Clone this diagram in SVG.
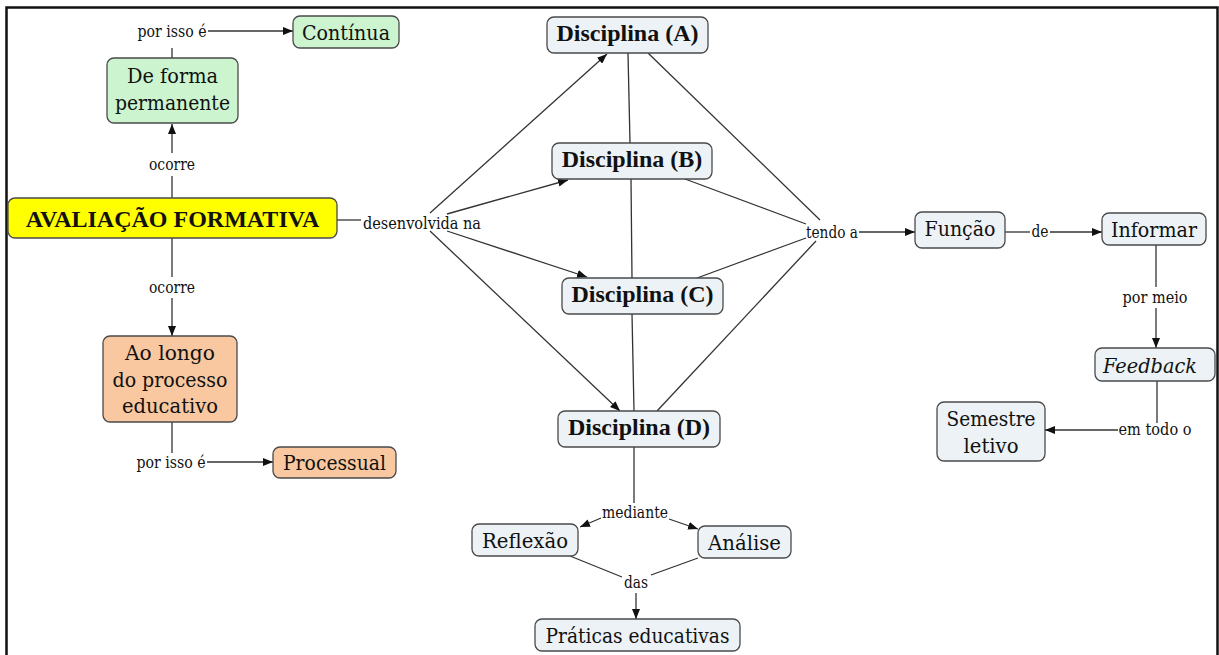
<svg xmlns="http://www.w3.org/2000/svg" width="1219" height="655" viewBox="0 0 1219 655">
  <style>
    .frame { fill: none; stroke: #111; stroke-width: 2.5; }
    .node rect { stroke: #4a4a4a; stroke-width: 1.3; }
    .blue rect { fill: #ecf2f5; }
    .green rect { fill: #ccf5cf; }
    .peach rect { fill: #f9c8a0; }
    .yellow rect { fill: #ffff00; }
    text { fill: #111; text-anchor: middle; }
    /* regular and italic captions: serif face squeezed to Times-like widths via textLength */
    .t, .i, .lbl { font-family: 'DejaVu Serif', 'Liberation Serif', serif; }
    .t { font-size: 21px; }
    .i { font-size: 21px; font-style: italic; }
    .lbl { font-size: 16px; }
    .b { font-family: 'Liberation Serif', 'DejaVu Serif', serif; font-size: 24px; font-weight: 700; }
    #connectors line { stroke: #333; stroke-width: 1.3; fill: none; }
    .arr { marker-end: url(#head); }
  </style>
  <defs>
    <marker id="head" viewBox="0 0 10 8" refX="10" refY="4" markerWidth="10" markerHeight="8" markerUnits="userSpaceOnUse" orient="auto">
      <path d="M0,0 L10,4 L0,8 Z" fill="#111"/>
    </marker>
  </defs>

  <rect class="frame" x="6.5" y="7.5" width="1211" height="660"/>

  <g id="connectors">
    <!-- left column -->
    <line x1="172" y1="48" x2="172" y2="58"/>
    <line class="arr" x1="208" y1="31" x2="293" y2="31"/>
    <line x1="172" y1="198" x2="172" y2="176"/>
    <line class="arr" x1="172" y1="153" x2="172" y2="124"/>
    <line x1="172" y1="238" x2="172" y2="277"/>
    <line class="arr" x1="172" y1="298" x2="172" y2="336"/>
    <line x1="172" y1="422" x2="172" y2="453"/>
    <line class="arr" x1="207" y1="462" x2="273" y2="462"/>
    <!-- desenvolvida na -->
    <line x1="337" y1="220" x2="361" y2="220"/>
    <line class="arr" x1="430" y1="213" x2="607" y2="54"/>
    <line class="arr" x1="447" y1="214" x2="568" y2="180"/>
    <line class="arr" x1="447" y1="231" x2="587" y2="277"/>
    <line class="arr" x1="430" y1="231" x2="620" y2="411"/>
    <!-- disciplines chain -->
    <line x1="628" y1="53" x2="630" y2="143"/>
    <line x1="631" y1="179" x2="632" y2="278"/>
    <line x1="632" y1="314" x2="634" y2="411"/>
    <!-- tendo a -->
    <line x1="648" y1="53" x2="820" y2="220"/>
    <line x1="685" y1="179" x2="806" y2="224"/>
    <line x1="697" y1="278" x2="806" y2="238"/>
    <line x1="657" y1="411" x2="816" y2="241"/>
    <line class="arr" x1="859" y1="232" x2="915" y2="232"/>
    <line x1="1005" y1="232" x2="1030" y2="232"/>
    <line class="arr" x1="1050" y1="232" x2="1102" y2="232"/>
    <line x1="1156" y1="245" x2="1156" y2="287"/>
    <line class="arr" x1="1156" y1="308" x2="1156" y2="348"/>
    <line x1="1157" y1="381" x2="1157" y2="423"/>
    <line class="arr" x1="1118" y1="430" x2="1045" y2="430"/>
    <!-- mediante / das -->
    <line x1="634" y1="447" x2="634" y2="503"/>
    <line class="arr" x1="601" y1="518" x2="580" y2="527"/>
    <line class="arr" x1="669" y1="519" x2="698" y2="529"/>
    <line x1="570" y1="556" x2="622" y2="577"/>
    <line x1="698" y1="558" x2="651" y2="575"/>
    <line class="arr" x1="636" y1="593" x2="636" y2="619"/>
  </g>

  <!-- link phrases -->
  <g id="labels">
    <text class="lbl" x="172" y="37" textLength="69" lengthAdjust="spacingAndGlyphs">por isso é</text>
    <text class="lbl" x="172" y="170" textLength="46" lengthAdjust="spacingAndGlyphs">ocorre</text>
    <text class="lbl" x="172" y="293" textLength="46" lengthAdjust="spacingAndGlyphs">ocorre</text>
    <text class="lbl" x="171" y="468" textLength="69" lengthAdjust="spacingAndGlyphs">por isso é</text>
    <text class="lbl" x="422" y="229" textLength="118" lengthAdjust="spacingAndGlyphs">desenvolvida na</text>
    <text class="lbl" x="832" y="238" textLength="52" lengthAdjust="spacingAndGlyphs">tendo a</text>
    <text class="lbl" x="1040" y="237" textLength="17" lengthAdjust="spacingAndGlyphs">de</text>
    <text class="lbl" x="1155" y="303" textLength="65" lengthAdjust="spacingAndGlyphs">por meio</text>
    <text class="lbl" x="1155" y="435" textLength="73" lengthAdjust="spacingAndGlyphs">em todo o</text>
    <text class="lbl" x="635" y="518" textLength="66" lengthAdjust="spacingAndGlyphs">mediante</text>
    <text class="lbl" x="636" y="588" textLength="24" lengthAdjust="spacingAndGlyphs">das</text>
  </g>

  <g id="continua" class="node green">
    <rect x="293" y="16" width="106" height="32" rx="7"/>
    <text class="t" x="346" y="40" textLength="88" lengthAdjust="spacingAndGlyphs">Contínua</text>
  </g>
  <g id="de-forma" class="node green">
    <rect x="107" y="58" width="131" height="65" rx="7"/>
    <text class="t" x="172.5" y="83" textLength="91" lengthAdjust="spacingAndGlyphs">De forma</text>
    <text class="t" x="172.5" y="110" textLength="115" lengthAdjust="spacingAndGlyphs">permanente</text>
  </g>
  <g id="avaliacao" class="node yellow">
    <rect x="8" y="198" width="329" height="40" rx="7"/>
    <text class="b" x="172.5" y="227">AVALIAÇÃO FORMATIVA</text>
  </g>
  <g id="ao-longo" class="node peach">
    <rect x="103" y="336" width="134" height="86" rx="7"/>
    <text class="t" x="170" y="360" textLength="90" lengthAdjust="spacingAndGlyphs">Ao longo</text>
    <text class="t" x="170" y="387" textLength="115" lengthAdjust="spacingAndGlyphs">do processo</text>
    <text class="t" x="170" y="413" textLength="96" lengthAdjust="spacingAndGlyphs">educativo</text>
  </g>
  <g id="processual" class="node peach">
    <rect x="273" y="447" width="123" height="31" rx="7"/>
    <text class="t" x="334.5" y="470" textLength="103" lengthAdjust="spacingAndGlyphs">Processual</text>
  </g>
  <g id="disciplina-a" class="node blue">
    <rect x="547" y="17" width="161" height="36" rx="7"/>
    <text class="b" x="627.5" y="41">Disciplina (A)</text>
  </g>
  <g id="disciplina-b" class="node blue">
    <rect x="552" y="143" width="160" height="36" rx="7"/>
    <text class="b" x="632" y="167">Disciplina (B)</text>
  </g>
  <g id="disciplina-c" class="node blue">
    <rect x="562" y="278" width="161" height="36" rx="7"/>
    <text class="b" x="642.5" y="302">Disciplina (C)</text>
  </g>
  <g id="disciplina-d" class="node blue">
    <rect x="558" y="411" width="162" height="36" rx="7"/>
    <text class="b" x="639" y="435">Disciplina (D)</text>
  </g>
  <g id="funcao" class="node blue">
    <rect x="915" y="212" width="90" height="36" rx="7"/>
    <text class="t" x="960" y="236" textLength="71" lengthAdjust="spacingAndGlyphs">Função</text>
  </g>
  <g id="informar" class="node blue">
    <rect x="1102" y="213" width="104" height="32" rx="7"/>
    <text class="t" x="1154" y="237" textLength="86" lengthAdjust="spacingAndGlyphs">Informar</text>
  </g>
  <g id="feedback" class="node blue">
    <rect x="1095" y="348" width="120" height="33" rx="7"/>
    <text class="i" x="1150" y="373" textLength="94" lengthAdjust="spacingAndGlyphs">Feedback</text>
  </g>
  <g id="semestre" class="node blue">
    <rect x="937" y="402" width="108" height="59" rx="7"/>
    <text class="t" x="991" y="426" textLength="89" lengthAdjust="spacingAndGlyphs">Semestre</text>
    <text class="t" x="991" y="453" textLength="55" lengthAdjust="spacingAndGlyphs">letivo</text>
  </g>
  <g id="reflexao" class="node blue">
    <rect x="472" y="524" width="106" height="32" rx="7"/>
    <text class="t" x="525" y="548" textLength="86" lengthAdjust="spacingAndGlyphs">Reflexão</text>
  </g>
  <g id="analise" class="node blue">
    <rect x="698" y="526" width="93" height="32" rx="7"/>
    <text class="t" x="744.5" y="550" textLength="73" lengthAdjust="spacingAndGlyphs">Análise</text>
  </g>
  <g id="praticas" class="node blue">
    <rect x="535" y="619" width="205" height="32" rx="7"/>
    <text class="t" x="637.5" y="643" textLength="184" lengthAdjust="spacingAndGlyphs">Práticas educativas</text>
  </g>
</svg>
